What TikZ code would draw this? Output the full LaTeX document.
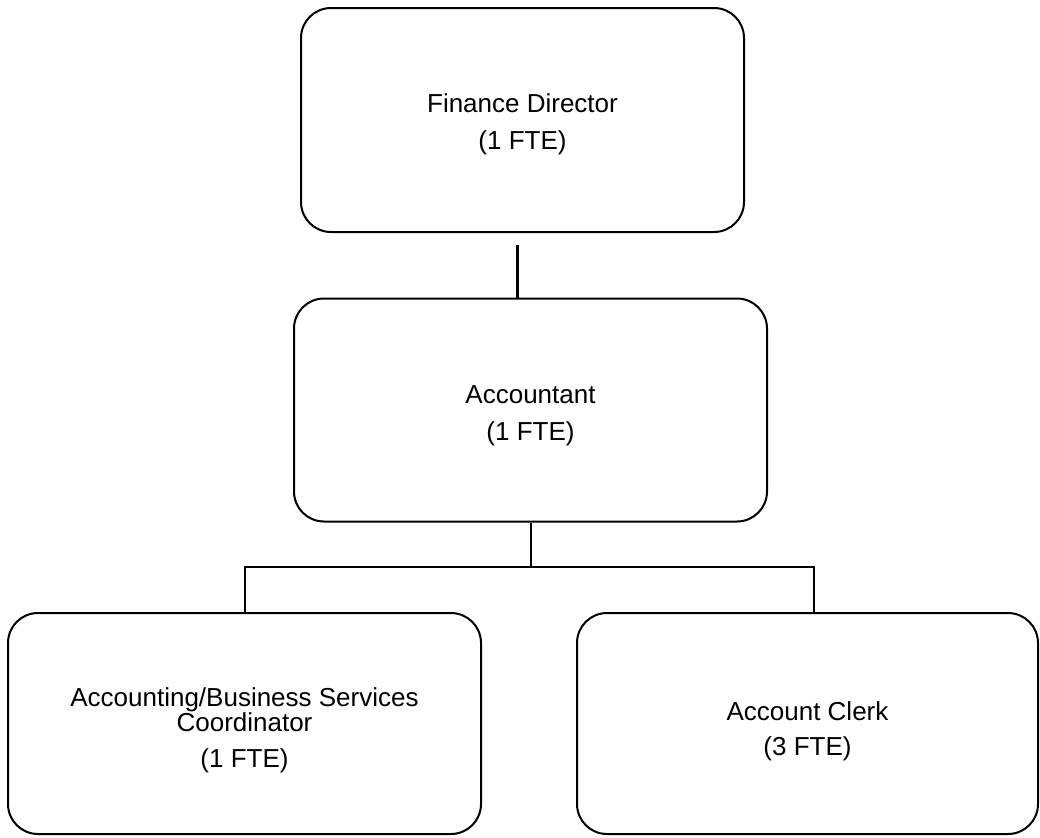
\documentclass[tikz,border=0pt]{standalone}
\usepackage{fontspec}
\setmainfont{Liberation Sans}
\usepackage{xcolor}
\usetikzlibrary{positioning,calc}
\newcommand{\topgap}[1]{\rule{0pt}{#1}}

\begin{document}
\begin{tikzpicture}[
  x=0.5pt, y=-0.5pt,
  role/.style={draw,line width=1pt,rounded corners=15pt,align=center,
    font=\fontsize{13}{12.5}\selectfont,inner sep=0pt},
  link/.style={line width=1pt}
]
  \useasboundingbox (0,0) rectangle (1040,837);

  \node[role, minimum width=221.5pt, minimum height=112pt] (dir) at (522.5,120)
    {\topgap{13.3pt}Finance Director\\[6pt](1 FTE)};
  \node[role, minimum width=236.5pt, minimum height=111.5pt] (acct) at (530.5,410)
    {\topgap{14.3pt}Accountant\\[6pt](1 FTE)};
  \node[role, minimum width=236.5pt, minimum height=110.5pt] (coord) at (244.5,723.5)
    {\topgap{16.3pt}Accounting/Business Services\\Coordinator\\[5.5pt](1 FTE)};
  \node[role, minimum width=230.5pt, minimum height=110.5pt] (clerk) at (807.5,723.5)
    {\topgap{16.8pt}Account Clerk\\[5pt](3 FTE)};

  \coordinate (gap) at (517,245);
  \coordinate (bus) at (530.5,567);

  \draw[line width=1.5pt] (gap) -- (gap |- acct.north);
  \draw[link] (acct.south) -- (bus);
  \draw[link] (coord.north) |- (bus) -| ([xshift=3.25pt]clerk.north);
\end{tikzpicture}
\end{document}
